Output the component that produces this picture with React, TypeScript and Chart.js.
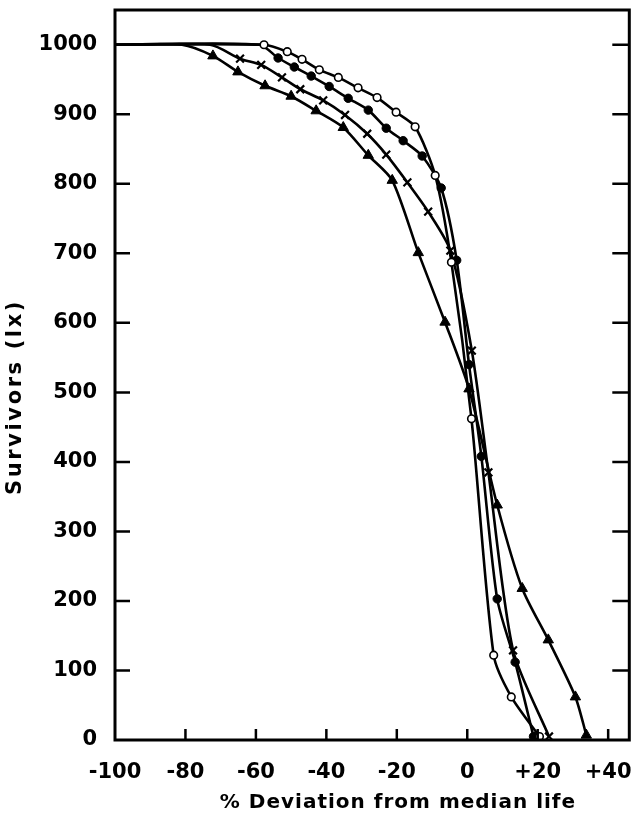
import React, { useEffect, useRef } from "react";
import { Chart, registerables } from "chart.js";

Chart.register(...registerables);

// Axis ticks
const xTickValues = [-100, -80, -60, -40, -20, 0, 20, 40];
const yTickValues = [0, 100, 200, 300, 400, 500, 600, 700, 800, 900, 1000];

// Open circles
const openX = [-100, -57.7, -51.1, -46.9, -42.0, -36.6, -31.0, -25.6, -20.2, -14.8, -9.1, -4.5, 1.2, 7.5, 12.5, 20.5];
const openY = [1000, 1000, 990, 979, 964, 953, 938, 924, 903, 882, 812, 687, 462, 122, 62, 5];

// Filled circles
const filledX = [-100, -59, -53.7, -49.1, -44.3, -39.2, -33.8, -28.1, -23.0, -18.2, -12.8, -7.4, -3.0, 0.5, 4.0, 8.5, 13.6, 18.8];
const filledY = [1000, 1000, 981, 968, 955, 940, 923, 906, 880, 862, 840, 794, 690, 540, 408, 203, 112, 5];

// Crosses
const crossX = [-100, -73, -64.5, -58.5, -52.6, -47.4, -40.9, -34.7, -28.4, -23.0, -17.0, -11.1, -4.8, 1.3, 6.0, 13.0, 23.2];
const crossY = [1000, 1000, 980, 971, 953, 936, 920, 899, 872, 842, 802, 760, 704, 560, 385, 129, 5];

// Triangles
const triX = [-100, -81, -72.2, -65.1, -57.4, -50.0, -42.9, -35.2, -28.1, -21.3, -13.9, -6.3, 0.5, 8.5, 15.6, 23.0, 30.7, 33.8];
const triY = [1000, 1000, 984, 961, 941, 926, 905, 881, 841, 805, 701, 601, 505, 338, 218, 144, 62, 7];

const xTitle = "% Deviation from median life";
const yTitle = "Survivors (lx)";

const FONT = "'DejaVu Sans', sans-serif";

function pts(xs: number[], ys: number[]) {
  return xs.map((x, i) => ({ x, y: ys[i] }));
}

function radii(n: number, hidden: number, r: number) {
  return Array.from({ length: n }, (_, i) => (i < hidden ? 0 : r));
}

const framePlugin = {
  id: "frame",
  afterDatasetsDraw(chart: any) {
    const { ctx, chartArea: a, scales } = chart;
    ctx.save();
    ctx.strokeStyle = "#000";
    ctx.lineWidth = 3;
    ctx.strokeRect(a.left, a.top, a.right - a.left, a.bottom - a.top);
    ctx.lineWidth = 2.5;
    ctx.beginPath();
    for (const v of yTickValues) {
      if (v === 0) continue;
      const y = scales.y.getPixelForValue(v);
      ctx.moveTo(a.left, y);
      ctx.lineTo(a.left + 15, y);
      ctx.moveTo(a.right, y);
      ctx.lineTo(a.right - 17, y);
    }
    for (const v of xTickValues) {
      if (v === -100) continue;
      const x = scales.x.getPixelForValue(v);
      ctx.moveTo(x, a.bottom);
      ctx.lineTo(x, a.bottom - 11);
    }
    ctx.stroke();

    ctx.fillStyle = "#000";
    ctx.textAlign = "center";
    ctx.textBaseline = "middle";
    ctx.font = `bold 20px ${FONT}`;
    (ctx as any).letterSpacing = "1px";
    ctx.fillText(xTitle, 398, 803);
    ctx.translate(16, 397);
    ctx.rotate(-Math.PI / 2);
    ctx.font = `bold 21px ${FONT}`;
    (ctx as any).letterSpacing = "2.6px";
    ctx.fillText(yTitle, 0, 0);
    ctx.restore();
  },
};

export default function App() {
  const ref = useRef<HTMLCanvasElement>(null);

  useEffect(() => {
    document.body.style.margin = "0";
    const canvas = ref.current!;
    const common = {
      borderColor: "#000",
      borderWidth: 2.6,
      pointBorderColor: "#000",
      tension: 0.25,
      fill: false,
    };
    const chart = new Chart(canvas, {
      type: "line",
      data: {
        datasets: [
          {
            ...common,
            label: "open",
            data: pts(openX, openY),
            pointStyle: "circle",
            pointRadius: radii(openX.length, 1, 3.8),
            pointBackgroundColor: "#fff",
            pointBorderWidth: 1.6,
          },
          {
            ...common,
            label: "filled",
            data: pts(filledX, filledY),
            pointStyle: "circle",
            pointRadius: radii(filledX.length, 2, 4.2),
            pointBackgroundColor: "#000",
            pointBorderWidth: 1,
          },
          {
            ...common,
            label: "cross",
            data: pts(crossX, crossY),
            pointStyle: "crossRot",
            pointRadius: radii(crossX.length, 2, 5.5),
            pointBackgroundColor: "#000",
            pointBorderWidth: 2.2,
          },
          {
            ...common,
            label: "triangle",
            data: pts(triX, triY),
            pointStyle: "triangle",
            pointRadius: radii(triX.length, 2, 6),
            pointBackgroundColor: "#000",
            pointBorderWidth: 1,
          },
        ],
      },
      options: {
        animation: false,
        responsive: false,
        devicePixelRatio: 1,
        layout: { padding: { top: 10, right: 7, left: 0, bottom: 0 } },
        plugins: {
          legend: { display: false },
          tooltip: { enabled: false },
        },
        scales: {
          x: {
            type: "linear",
            min: -100,
            max: 46,
            grid: { display: false, drawTicks: false },
            border: { display: false },
            afterBuildTicks: (s: any) => {
              s.ticks = xTickValues.map((v) => ({ value: v }));
            },
            afterFit: (s: any) => {
              s.height = 76;
              s.paddingLeft = 0;
              s.paddingRight = 0;
            },
            ticks: {
              color: "#000",
              padding: 20,
              maxRotation: 0,
              autoSkip: false,
              font: { family: FONT, weight: "bold", size: 21 },
              callback: (v: any) => (Number(v) > 0 ? "+" + v : String(v)),
            },
          },
          y: {
            type: "linear",
            min: 0,
            max: 1050,
            grid: { display: false, drawTicks: false },
            border: { display: false },
            afterBuildTicks: (s: any) => {
              s.ticks = yTickValues.map((v) => ({ value: v }));
            },
            afterFit: (s: any) => {
              s.width = 115;
              s.paddingTop = 0;
              s.paddingBottom = 0;
            },
            ticks: {
              color: "#000",
              padding: 18,
              autoSkip: false,
              font: { family: FONT, weight: "bold", size: 21 },
              callback: (v: any) => String(v),
            },
          },
        },
      },
      plugins: [framePlugin],
    });
    return () => chart.destroy();
  }, []);

  return (
    <div style={{ position: "absolute", left: 0, top: 0, width: 637, height: 816 }}>
      <canvas ref={ref} width={637} height={816} style={{ width: 637, height: 816, display: "block" }} />
    </div>
  );
}
